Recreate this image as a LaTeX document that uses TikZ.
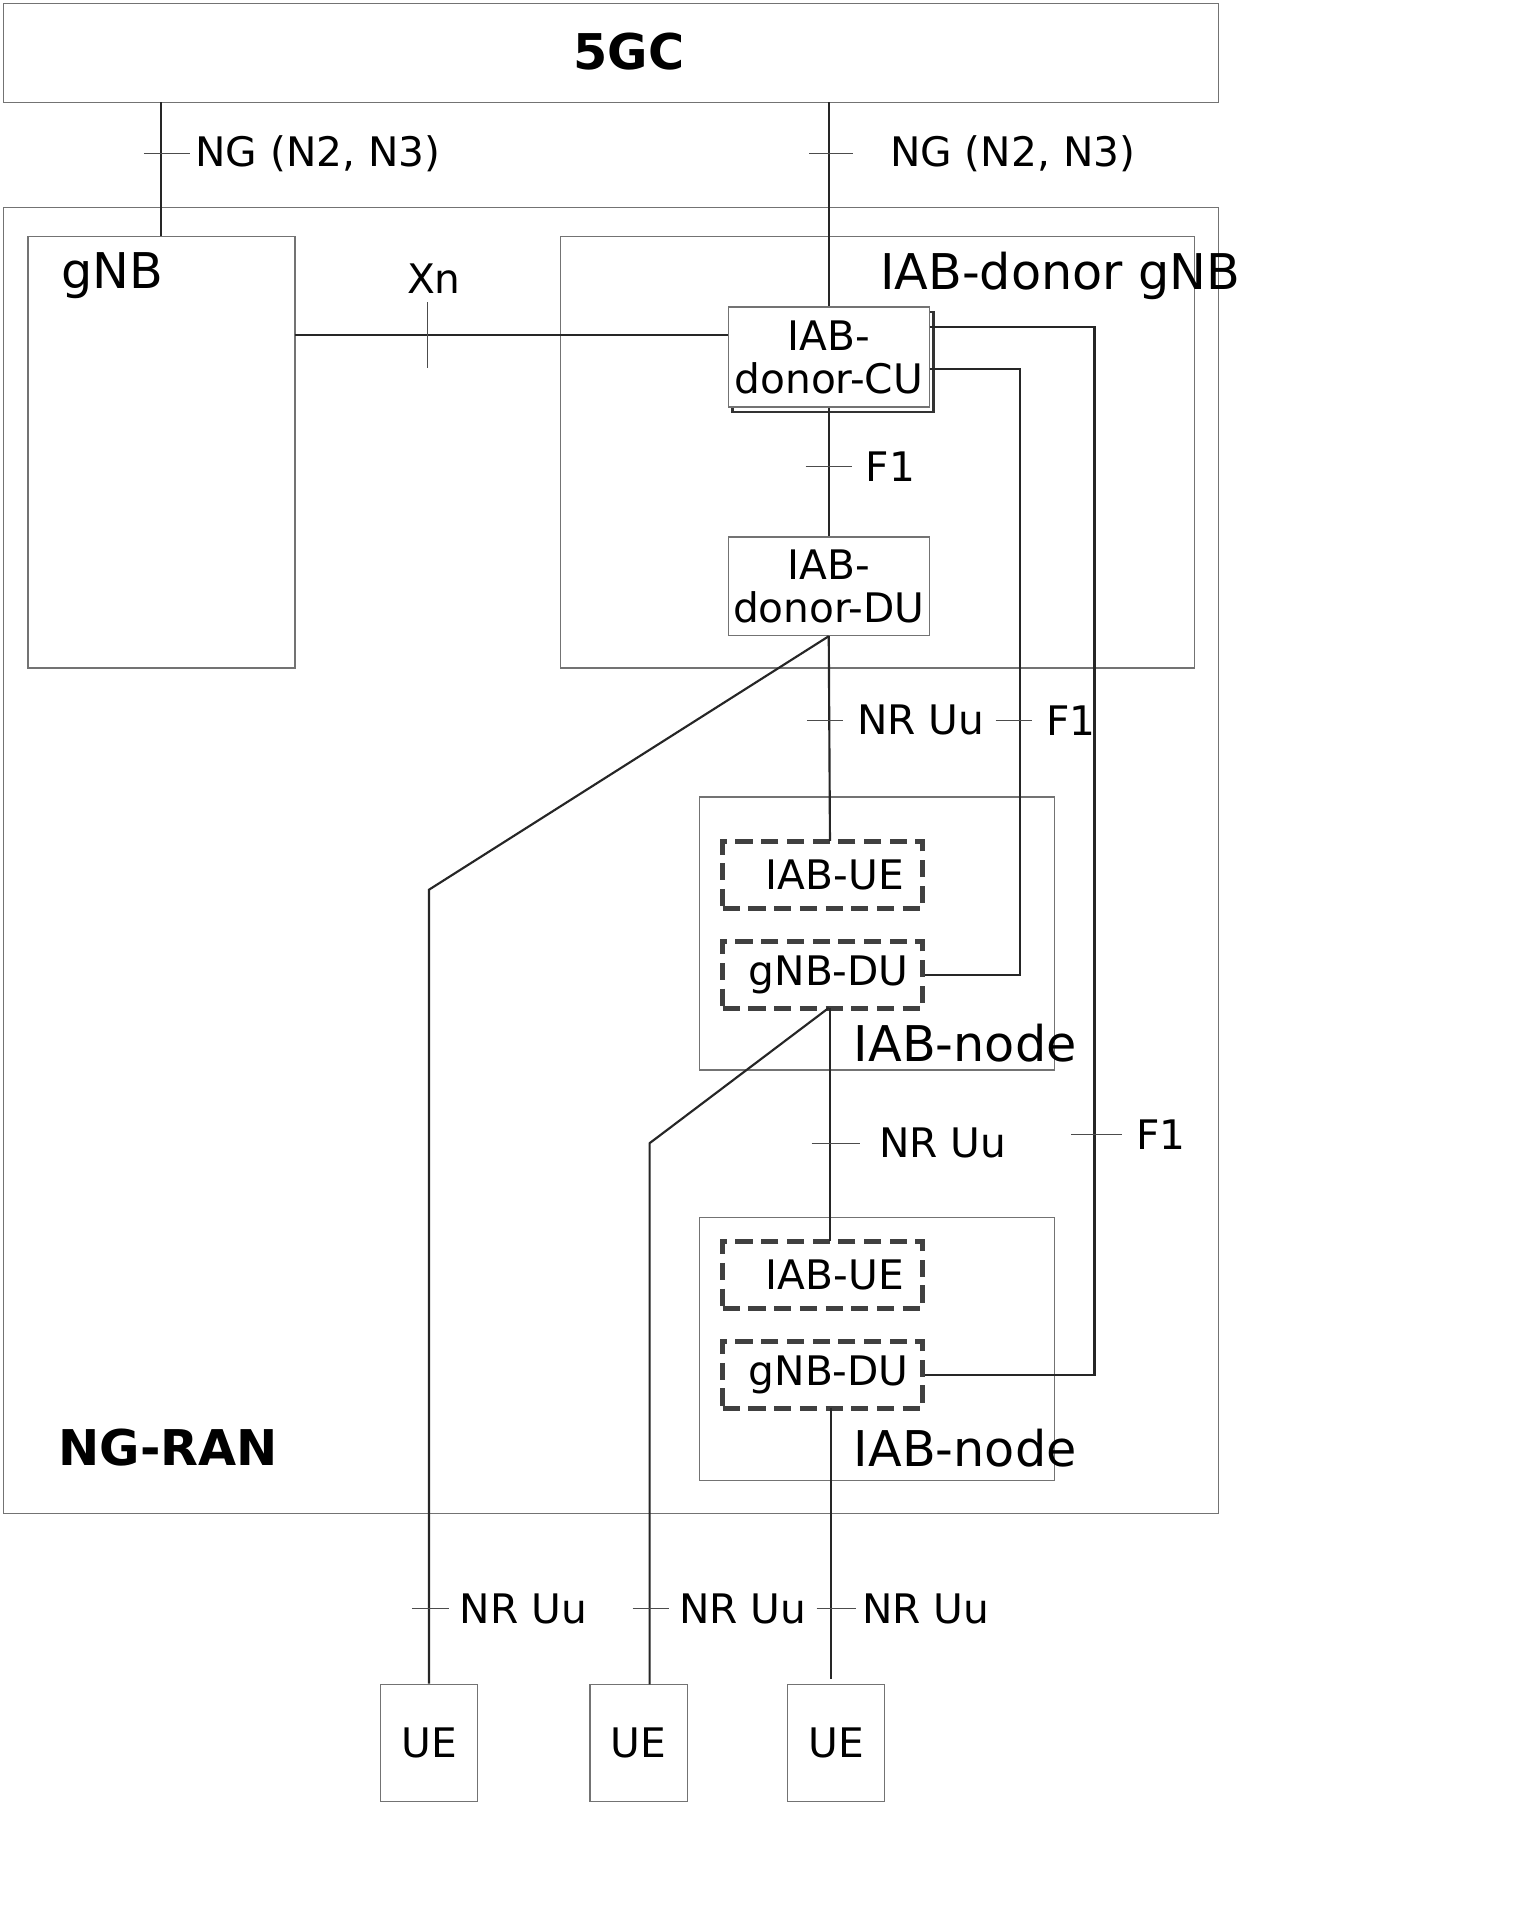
\documentclass[tikz,border=0pt]{standalone}
\usepackage{fontspec}
\setmainfont{DejaVu Sans}
\usetikzlibrary{calc,positioning}
\tikzset{
  frame/.style={draw=black!55,line width=0.6pt},
  unit/.style={draw=black!55,line width=0.6pt,align=center,inner sep=0pt,font=\fontsize{19}{20}\selectfont},
  sub/.style={draw=black!75,dashed,line width=2.4pt,dash pattern=on 8pt off 4pt,minimum width=3.28cm,minimum height=1.1cm,inner sep=0pt,font=\fontsize{19}{20}\selectfont},
  link/.style={draw=black!85,line width=1pt},
  tick/.style={draw=black!70,line width=0.6pt},
  lbl/.style={font=\fontsize{19}{20}\selectfont,anchor=west,inner sep=0pt},
  big/.style={font=\fontsize{23}{24}\selectfont,inner sep=0pt}
}
\begin{document}
\begin{tikzpicture}[x=0.02cm,y=-0.02cm]
\useasboundingbox (0,0) rectangle (1262,1568);
% frames
\draw[frame] (3,3) rectangle (1000,84);
\node[big,font=\fontsize{23}{24}\selectfont\bfseries] (core) at (516,42) {5GC};
\draw[frame] (3,170) rectangle (1000,1242);
\node[big,font=\fontsize{23}{24}\selectfont\bfseries] (ran) at (138,1188) {NG-RAN};
\draw[frame] (23,194) rectangle (242,548);
\node[big] (gnbl) at (92,226) {gNB};
\draw[frame] (460,194) rectangle (980,548);
\node[big] (donorl) at (870,226) {IAB-donor gNB};
% donor units
\draw[black!80,line width=1.2pt] (601,256) rectangle (766,338);
\node[unit,fill=white,minimum width=3.3cm,minimum height=1.64cm] (cu) at (680,293) {IAB-\\donor-CU};
\node[unit,minimum width=3.3cm,minimum height=1.62cm] (du) at (680,481) {IAB-\\donor-DU};
% IAB nodes
\draw[frame] (574,654) rectangle (865,878);
\node[big] (node1) at (792,856) {IAB-node};
\node[sub] (ue1) at (675,718) {\hspace*{0.4cm}IAB-UE};
\node[sub] (gdu1) at (675,800) {\hspace*{0.2cm}gNB-DU};
\draw[frame] (574,999) rectangle (865,1215);
\node[big] (node2) at (792,1188) {IAB-node};
\node[sub] (ue2) at (675,1046) {\hspace*{0.4cm}IAB-UE};
\node[sub] (gdu2) at (675,1128) {\hspace*{0.2cm}gNB-DU};
% UEs
\node[unit,minimum width=1.6cm,minimum height=1.92cm] (uea) at (352,1430) {UE};
\node[unit,minimum width=1.6cm,minimum height=1.92cm] (ueb) at (524,1430) {UE};
\node[unit,minimum width=1.6cm,minimum height=1.92cm] (uec) at (686,1430) {UE};
% bend points
\coordinate (ba) at (352,730);
\coordinate (bb) at (533,938);
\coordinate (fa) at (837,303);
\coordinate (fb) at (898,268);
% interfaces
\draw[link] (132,84) -- (132,194);
\draw[tick] (118,126) -- (156,126); \node[lbl] (ng1) at (160,126) {NG (N2, N3)};
\draw[link] (680,84) -- (cu.north);
\draw[tick] (664,126) -- (700,126); \node[lbl] (ng2) at (730,126) {NG (N2, N3)};
\draw[link] (242,275) -- (cu.west |- 0,275);
\draw[tick] (351,248) -- (351,302); \node[lbl,anchor=center] (xn) at (356,229) {Xn};
\draw[link] (cu.south) -- (du.north);
\draw[tick] (661,383) -- (699,383); \node[lbl] (f1a) at (710,383) {F1};
\draw[link] (du.south) -- (681,690);
\draw[tick] (662,591) -- (692,591); \node[lbl] (uu1) at (703,591) {NR Uu};
\draw[link] (cu.east |- fa) -- (fa) -- (fa |- gdu1) -- (gdu1.east);
\draw[tick] (817,591) -- (847,591); \node[lbl] (f1b) at (858,591) {F1};
\draw[link] (cu.east |- fb) -- (fb) -- (fb |- gdu2) -- (gdu2.east);
\draw[tick] (879,931) -- (921,931); \node[lbl] (f1c) at (932,931) {F1};
\draw[link] (du.south) -- (ba) -- (uea.north);
\draw[tick] (338,1320) -- (368,1320); \node[lbl] (uu2) at (377,1320) {NR Uu};
\draw[link] (680,827) -- (bb) -- (533,1382);
\draw[tick] (519,1320) -- (549,1320); \node[lbl] (uu3) at (557,1320) {NR Uu};
\draw[link] (681,827) -- (681,1018);
\draw[tick] (666,938) -- (706,938); \node[lbl] (uu4) at (721,938) {NR Uu};
\draw[link] (682,1155) -- (682,1378);
\draw[tick] (670,1320) -- (702,1320); \node[lbl] (uu5) at (707,1320) {NR Uu};
\end{tikzpicture}
\end{document}
